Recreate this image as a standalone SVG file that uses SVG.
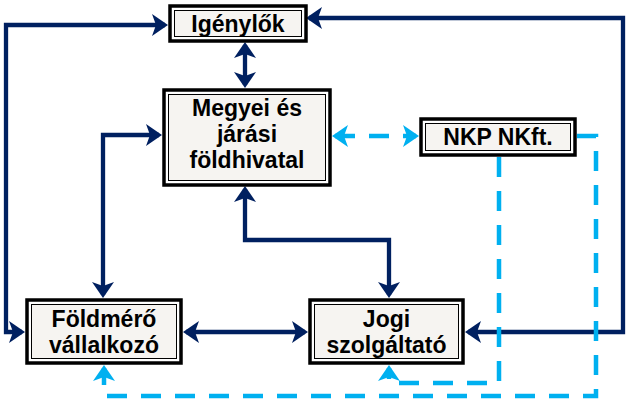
<svg xmlns="http://www.w3.org/2000/svg" width="633" height="401" viewBox="0 0 633 401">
<style>
.ob{fill:#ffffff;stroke:#000000;stroke-width:3.5}
.ib{fill:#f6f4f1;stroke:#000000;stroke-width:1}
.t{font-family:"Liberation Sans",Arial,sans-serif;font-weight:bold;font-size:23px;fill:#000000;text-anchor:middle}
.d{fill:none;stroke:#002060;stroke-width:4.3;stroke-linejoin:miter;marker-start:url(#ad);marker-end:url(#ad)}
.l{fill:none;stroke:#00b0f0;stroke-width:4.5;stroke-dasharray:20 14;stroke-linejoin:miter}
</style>
<defs>
<marker id="ad" viewBox="0 0 16 22" refX="13" refY="11" markerWidth="16" markerHeight="22" markerUnits="userSpaceOnUse" orient="auto-start-reverse"><path d="M0,0 L16,11 L0,22 L4,11 z" fill="#002060"/></marker>
<marker id="al" viewBox="0 0 16 22" refX="13" refY="11" markerWidth="16" markerHeight="22" markerUnits="userSpaceOnUse" orient="auto-start-reverse"><path d="M0,0 L16,11 L0,22 L4,11 z" fill="#00b0f0"/></marker>
</defs>
<rect width="633" height="401" fill="#ffffff"/>
<g id="connectors">
<path class="d" d="M22,332 H6 V25 H165"/>
<path class="d" d="M309,18 H623 V332 H468"/>
<path class="d" d="M245,45 V85"/>
<path class="d" d="M159,135 H103 V295"/>
<path class="d" d="M245,189 V240 H389 V295"/>
<path class="d" d="M186,332 H305"/>
<path class="l" d="M335,136 H416" marker-start="url(#al)" marker-end="url(#al)"/>
<path class="l" d="M577,136 H596 V396 H104 V368" marker-end="url(#al)"/>
<path class="l" d="M499,157 V383 H389 V368" marker-end="url(#al)"/>
</g>
<g id="igenylok">
<rect class="ob" x="170" y="6" width="136" height="35"/>
<rect class="ib" x="174.5" y="10.5" width="127" height="26"/>
<text class="t" x="238" y="32">Igénylők</text>
</g>
<g id="megyei">
<rect class="ob" x="164" y="90" width="166" height="95"/>
<rect class="ib" x="168.5" y="94.5" width="157" height="86"/>
<text class="t" x="247" y="116">Megyei és</text>
<text class="t" x="247" y="142">járási</text>
<text class="t" x="247" y="168">földhivatal</text>
</g>
<g id="nkp">
<rect class="ob" x="421" y="119" width="154" height="36"/>
<rect class="ib" x="425.5" y="123.5" width="145" height="27"/>
<text class="t" x="498" y="145">NKP NKft.</text>
</g>
<g id="foldmero">
<rect class="ob" x="27" y="300" width="154" height="63"/>
<rect class="ib" x="31.5" y="304.5" width="145" height="54"/>
<text class="t" x="104" y="327">Földmérő</text>
<text class="t" x="104" y="353">vállalkozó</text>
</g>
<g id="jogi">
<rect class="ob" x="310" y="300" width="153" height="63"/>
<rect class="ib" x="314.5" y="304.5" width="144" height="54"/>
<text class="t" x="386.5" y="327">Jogi</text>
<text class="t" x="386.5" y="353">szolgáltató</text>
</g>
</svg>
